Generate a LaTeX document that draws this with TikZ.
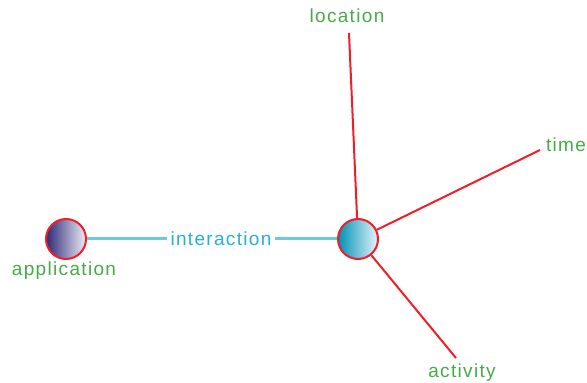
\documentclass[tikz,border=0pt]{standalone}
\usepackage{fontspec}
\setmainfont{Liberation Sans}[LetterSpace=7]
\begin{document}
\definecolor{lblgreen}{RGB}{70,170,70}
\definecolor{linkcyan}{RGB}{110,200,225}
\definecolor{intertext}{RGB}{40,175,215}
\definecolor{hubred}{RGB}{240,30,40}
\definecolor{appdark}{RGB}{45,40,120}
\definecolor{hubdark}{RGB}{0,145,185}
\begin{tikzpicture}[x=1pt,y=1pt,
  lbl/.style={font=\fontsize{19}{21}\selectfont, text=lblgreen, inner sep=1pt},
  ring/.style={circle, minimum size=40pt, inner sep=0pt, draw=hubred, line width=2pt},
  spoke/.style={draw=hubred, line width=2pt},
  link/.style={draw=linkcyan, line width=3pt}]
\useasboundingbox (0,0) rectangle (587,383);
% the two endpoints of the interaction
\node[ring, left color=appdark, right color=white!92!appdark] (app) at (66,144) {};
\node[ring, left color=hubdark, right color=white!90!hubdark] (hub) at (358,144) {};
% labels
\node[lbl] (applbl) at (64,112) {application};
\node[lbl] (loc) at (347,367) {location};
\node[lbl] (time) at (566,238) {time};
\node[lbl] (act) at (462,10) {activity};
% free ends of the context spokes
\coordinate (locend) at (349,350);
\coordinate (timeend) at (540,233);
\coordinate (actend) at (456,25);
% interaction link with its label
\node[font=\fontsize{19}{21}\selectfont, text=intertext, fill=white, inner sep=3pt] (inter) at (221,144) {interaction};
\draw[link] (app) -- (inter);
\draw[link] (inter) -- (hub);
% context spokes
\draw[spoke] (hub) -- (locend);
\draw[spoke] (hub) -- (timeend);
\draw[spoke] (hub) -- (actend);
\end{tikzpicture}
\end{document}
